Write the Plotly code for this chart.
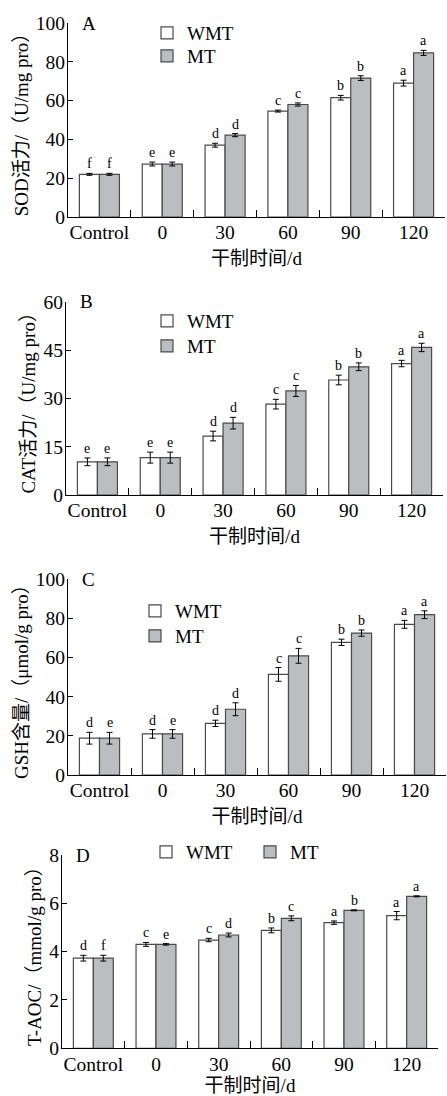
import plotly.graph_objects as go

W, H = 447, 1096
FONT = "Liberation Serif, Times New Roman, Noto Sans CJK SC, serif"

categories = ["Control", "0", "30", "60", "90", "120"]
series_names = ["WMT", "MT"]

# Panel A: SOD
sod_wmt = [22.0, 27.3, 37.0, 54.6, 61.5, 69.0]
sod_mt = [22.0, 27.3, 42.2, 58.0, 71.6, 84.6]
sod_wmt_err = [0.5, 1.0, 1.0, 0.5, 1.2, 1.5]
sod_mt_err = [0.5, 1.0, 0.8, 0.8, 1.2, 1.3]
sod_wmt_lab = ["f", "e", "d", "c", "b", "a"]
sod_mt_lab = ["f", "e", "d", "c", "b", "a"]

# Panel B: CAT
cat_wmt = [10.3, 11.6, 18.3, 28.2, 35.7, 40.8]
cat_mt = [10.3, 11.6, 22.3, 32.3, 39.8, 45.8]
cat_wmt_err = [1.2, 1.7, 1.5, 1.5, 1.5, 1.0]
cat_mt_err = [1.2, 1.7, 1.8, 1.7, 1.2, 1.3]
cat_wmt_lab = ["e", "e", "d", "c", "b", "a"]
cat_mt_lab = ["e", "e", "d", "c", "b", "a"]

# Panel C: GSH
gsh_wmt = [18.8, 21.0, 26.4, 51.4, 67.8, 77.0]
gsh_mt = [18.8, 21.0, 33.6, 60.9, 72.5, 81.9]
gsh_wmt_err = [3.0, 2.2, 1.6, 3.5, 1.6, 2.0]
gsh_mt_err = [3.0, 2.2, 3.3, 3.8, 1.6, 2.0]
gsh_wmt_lab = ["d", "d", "d", "c", "b", "a"]
gsh_mt_lab = ["e", "e", "d", "c", "b", "a"]

# Panel D: T-AOC
aoc_wmt = [3.73, 4.30, 4.48, 4.88, 5.20, 5.49]
aoc_mt = [3.73, 4.30, 4.69, 5.38, 5.71, 6.29]
aoc_wmt_err = [0.12, 0.08, 0.07, 0.10, 0.07, 0.17]
aoc_mt_err = [0.12, 0.03, 0.08, 0.10, 0.02, 0.02]
aoc_wmt_lab = ["d", "c", "c", "b", "a", "a"]
aoc_mt_lab = ["f", "e", "d", "c", "b", "a"]

panel_letters = ["A", "B", "C", "D"]
y_titles = ["SOD活力/（U/mg pro）", "CAT活力/（U/mg pro）",
            "GSH含量/（μmol/g pro）", "T-AOC/（mmol/g pro）"]
y_ranges = [[0, 100], [0, 60], [0, 100], [0, 8]]
y_dticks = [20, 15, 20, 2]
x_title = "干制时间/d"

panels = [
    (sod_wmt, sod_mt, sod_wmt_err, sod_mt_err, sod_wmt_lab, sod_mt_lab),
    (cat_wmt, cat_mt, cat_wmt_err, cat_mt_err, cat_wmt_lab, cat_mt_lab),
    (gsh_wmt, gsh_mt, gsh_wmt_err, gsh_mt_err, gsh_wmt_lab, gsh_mt_lab),
    (aoc_wmt, aoc_mt, aoc_wmt_err, aoc_mt_err, aoc_wmt_lab, aoc_mt_lab),
]

# layout in pixels: (x0, x1, ytop, ybottom)
boxes = [(68, 445, 23, 217), (66, 443, 301.7, 495), (68, 446, 579.3, 775), (62, 438, 855, 1048.3)]
# legend entry positions (left x, center y) for WMT and MT in each panel
legend_pos = [
    [(147, 33), (147, 56)],
    [(147, 321), (147, 346)],
    [(135, 611), (135, 636)],
    [(146, 852), (250, 852)],
]


def fx(p):
    return p / W


def fy(p):
    return 1 - p / H


WMT_FILL = "white"
MT_FILL = "#bcbdc0"
EDGE = "#4a4a4a"

fig = go.Figure()
annotations = []
layout = {}
for i, (wv, mv, we, me, wl, ml) in enumerate(panels):
    sfx = "" if i == 0 else str(i + 1)
    xa, ya = "x" + sfx, "y" + sfx
    for k, (name, vals, errs, fill) in enumerate(((series_names[0], wv, we, WMT_FILL),
                                                  (series_names[1], mv, me, MT_FILL))):
        n = 2 * i + k + 1
        leg = "legend" if n == 1 else "legend" + str(n)
        fig.add_trace(go.Bar(
            x=categories, y=vals, name=name, xaxis=xa, yaxis=ya, legend=leg,
            showlegend=True,
            marker=dict(color=fill, line=dict(color=EDGE, width=1.2)),
            error_y=dict(type="data", array=errs, color="black", thickness=1, width=3),
        ))
        lx, ly = legend_pos[i][k]
        layout[leg] = dict(
            x=fx(lx), y=fy(ly), xref="paper", yref="paper", xanchor="left", yanchor="middle",
            orientation="v", bgcolor="rgba(0,0,0,0)", borderwidth=0, visible=True,
            font=dict(family=FONT, size=19, color="black"), itemwidth=30, tracegroupgap=0,
        )
    for labs, vals, errs, shift in ((wl, wv, we, -10), (ml, mv, me, 10)):
        for j, (lab, v, e) in enumerate(zip(labs, vals, errs)):
            annotations.append(dict(
                x=j, y=v + e, xref=xa, yref=ya, text=lab, showarrow=False,
                xshift=shift, yshift=0, yanchor="bottom",
                font=dict(family=FONT, size=14, color="black"),
            ))
    x0, x1, yt, yb = boxes[i]
    layout["xaxis" + sfx] = dict(
        domain=[fx(x0), fx(x1)], anchor=ya, type="category",
        categoryorder="array", categoryarray=categories,
        range=[-0.5, len(categories) - 0.5], autorange=False, tickangle=0,
        automargin=False,
        showline=True, linecolor="black", linewidth=1, ticks="inside", tickson="boundaries",
        ticklen=7, tickcolor="black", tickwidth=1, showgrid=False, ticklabelstandoff=-2,
        tickfont=dict(family=FONT, size=19.5, color="black"),
        title=dict(text=x_title, font=dict(family=FONT, size=19, color="black"), standoff=9),
        fixedrange=True,
    )
    layout["yaxis" + sfx] = dict(
        domain=[fy(yb), fy(yt)], anchor=xa, range=y_ranges[i], dtick=y_dticks[i],
        autorange=False, automargin=False,
        showline=True, linecolor="black", linewidth=1, ticks="inside", ticklen=5,
        tickcolor="black", tickwidth=1, showgrid=False, zeroline=False, ticklabelstandoff=-2,
        tickfont=dict(family=FONT, size=19.5, color="black"),
        title=dict(text=y_titles[i], font=dict(family=FONT, size=19, color="black"), standoff=2),
        fixedrange=True,
    )
    annotations.append(dict(
        x=fx(x0 + 12), y=fy(yt), xref="paper", yref="paper", text=panel_letters[i],
        showarrow=False, xanchor="left", yanchor="middle",
        font=dict(family=FONT, size=19, color="black"),
    ))

fig.update_layout(
    width=W, height=H, autosize=False, showlegend=True,
    margin=dict(l=0, r=0, t=0, b=0, autoexpand=False),
    paper_bgcolor="white", plot_bgcolor="white",
    barmode="group", bargap=0.363, bargroupgap=0,
    annotations=annotations,
    font=dict(family=FONT, size=19, color="black"),
    **layout,
)

fig.write_html("out.html", config={"displayModeBar": False},
               post_script="document.body.style.margin='0';document.body.style.overflow='hidden';")
